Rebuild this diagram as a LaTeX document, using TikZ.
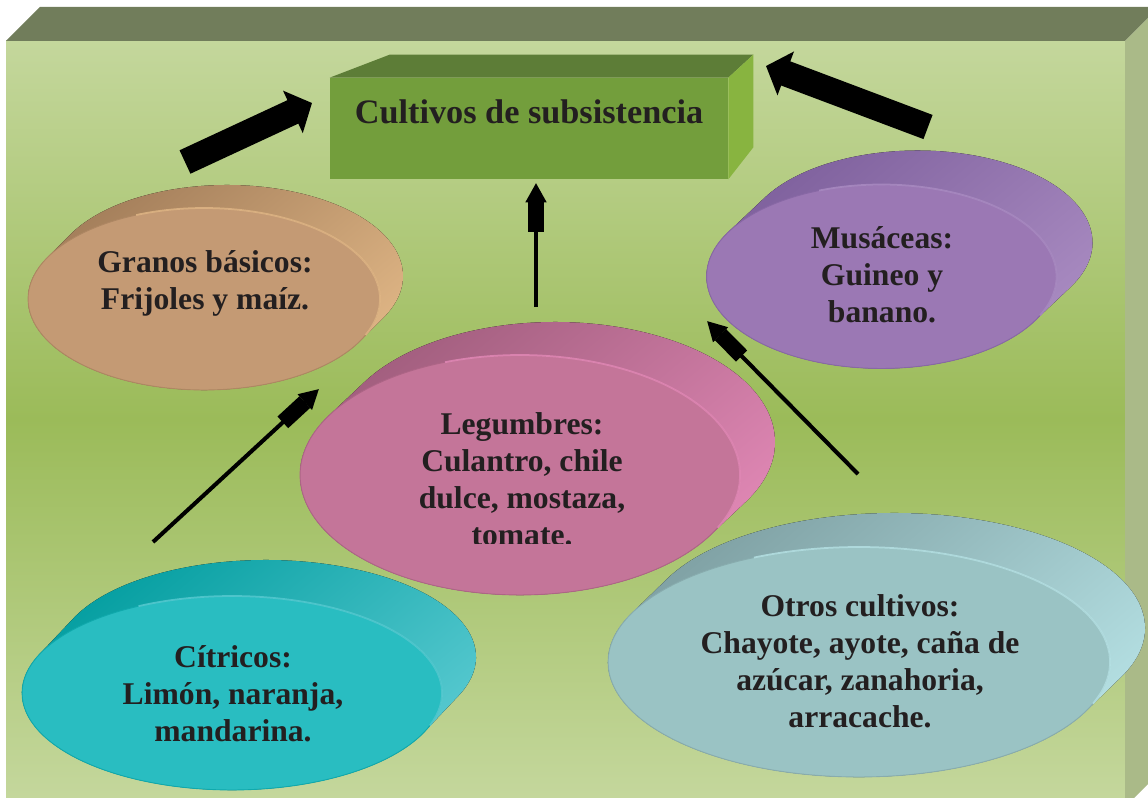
\documentclass[tikz,border=0pt]{standalone}
\usepackage{fontspec}
\setmainfont{Liberation Serif}
\usepackage{tikz}
\usetikzlibrary{arrows.meta,shapes.geometric,calc}

\definecolor{fondoclaro}{HTML}{C4D79C}
\definecolor{fondomedio}{HTML}{9BBB59}
\definecolor{fondotapa}{HTML}{717D5B}
\definecolor{fondolado}{HTML}{AABA88}
\definecolor{cajafrente}{HTML}{739E3C}
\definecolor{cajatapa}{HTML}{5D7D37}
\definecolor{cajalado}{HTML}{88B440}
\definecolor{tinta}{HTML}{231F20}
\definecolor{granos}{HTML}{C49A74}
\definecolor{granosO}{HTML}{A07B58}
\definecolor{granosC}{HTML}{E2B887}
\definecolor{musa}{HTML}{9B78B4}
\definecolor{musaO}{HTML}{7C5E9B}
\definecolor{musaC}{HTML}{AB8DC3}
\definecolor{legum}{HTML}{C47599}
\definecolor{legumO}{HTML}{9D5B7A}
\definecolor{legumC}{HTML}{E48AB8}
\definecolor{citri}{HTML}{29BDC1}
\definecolor{citriO}{HTML}{009C9E}
\definecolor{citriC}{HTML}{5BCBD2}
\definecolor{otros}{HTML}{9AC3C4}
\definecolor{otrosO}{HTML}{7C9DA0}
\definecolor{otrosC}{HTML}{B7E3E6}

\tikzstyle{disco} = [ellipse, inner sep=0pt, line width=0.5pt]
\tikzstyle{texto} = [align=center, inner sep=0pt, text=tinta,
    font=\bfseries\fontsize{18}{21}\selectfont]
\tikzstyle{titulo} = [rectangle, fill=cajafrente, minimum width=7.96cm,
    inner sep=0pt, text height=0.9cm, text depth=1.12cm, text=tinta,
    font=\bfseries\fontsize{19.5}{23}\selectfont]
\tikzstyle{bloque} = [line width=14.7pt, -{Triangle[length=12pt,width=26pt]}]
\tikzstyle{flecha} = [line width=2.3pt,
    -{Rectangle[length=17pt,width=9pt] Triangle[length=11pt,width=11.5pt]}]

% disco: nombre, centro, dx, dy, rx, ry, cara, oscuro, claro
\newcommand{\disco}[9]{%
  \pgfmathsetmacro{\tcero}{atan2(-(#6)*(#3),(#5)*(#4))}
  \fill[top color=#8, bottom color=#9, shading angle=40]
    ($(#2)+({(#5)*cos(\tcero)},{(#6)*sin(\tcero)})$) -- ++(#3,#4)
    arc[start angle=\tcero, end angle=\tcero+180, x radius=#5, y radius=#6]
    -- ++(-#3,-#4)
    arc[start angle=\tcero+180, end angle=\tcero+360, x radius=#5, y radius=#6]
    -- cycle;
  \node[disco, fill=#7, draw=#8!60!#7, minimum width=#5*0.04cm,
    minimum height=#6*0.04cm] (#1) at (#2) {};
  \draw[#9, line width=1pt, opacity=0.8]
    ($(#2)+({(#5)*cos(\tcero+4)},{(#6)*sin(\tcero+4)})$)
    arc[start angle=\tcero+4, end angle=\tcero+140, x radius=#5, y radius=#6];
}

\begin{document}
\begin{tikzpicture}[x=0.02cm, y=0.02cm]
  \useasboundingbox (0,0) rectangle (1148,-797);
  \clip (0,0) rectangle (1148,-797);
  % Fondo
  \fill[top color=fondoclaro, bottom color=fondoclaro, middle color=fondomedio]
    (6,-41) rectangle (1125,-797);
  \fill[fondotapa] (6,-41) -- (40,-7) -- (1159,-7) -- (1125,-41) -- cycle;
  \fill[fondolado] (1125,-41) -- (1159,-7) -- (1159,-773) -- (1125,-807) -- cycle;

  % Place nodes
  \node[titulo] (titulo) at (529,-128.5) {Cultivos de subsistencia};
  \fill[cajatapa] (titulo.north west) -- ($(titulo.north west)+(60,23)$)
    -- ($(titulo.north east)+(25,23)$) -- (titulo.north east) -- cycle;
  \fill[cajalado] (titulo.north east) -- ($(titulo.north east)+(25,23)$)
    -- ($(titulo.south east)+(25,32)$) -- (titulo.south east) -- cycle;

  \disco{granos}{204,-299}{23}{23}{176}{91}{granos}{granosO}{granosC}
  \node[texto] (granosT) at (205,-283) {Granos básicos:\\ Frijoles y maíz.};

  \disco{musaceas}{881.5,-276.5}{36}{34}{175}{92}{musa}{musaO}{musaC}
  \node[texto] (musaceasT) at (882,-275) {Musáceas:\\ Guineo y\\ banano.};

  \disco{legumbres}{520,-475}{35}{33}{220}{120}{legum}{legumO}{legumC}
  \begin{scope}
    \clip (290,-395) rectangle (760,-543);
    \node[texto] (legumbresT) at (522,-479)
      {Legumbres:\\ Culantro, chile\\ dulce, mostaza,\\ tomate.};
  \end{scope}

  \disco{citricos}{232,-693}{34}{36}{210}{97}{citri}{citriO}{citriC}
  \node[texto] (citricosT) at (233,-694) {Cítricos:\\ Limón, naranja,\\ mandarina.};

  \disco{otros}{859,-662}{35}{34}{251}{115}{otros}{otrosO}{otrosC}
  \node[texto] (otrosT) at (860,-661)
    {Otros cultivos:\\ Chayote, ayote, caña de\\ azúcar, zanahoria,\\ arracache.};

  % Flechas
  \coordinate (f11) at (185,-162);
  \coordinate (f12) at (312,-103);
  \coordinate (f21) at (928,-127);
  \coordinate (f22) at (766,-66);
  \coordinate (f31) at (536,-307);
  \coordinate (f32) at (536,-183);
  \coordinate (f41) at (153,-542);
  \coordinate (f42) at (319,-389);
  \coordinate (f51) at (858,-474);
  \coordinate (f52) at (707,-321);
  \draw[bloque] (f11) -- (f12);
  \draw[bloque] (f21) -- (f22);
  \draw[flecha] (f31) -- (f32);
  \draw[flecha] (f41) -- (f42);
  \draw[flecha] (f51) -- (f52);
\end{tikzpicture}
\end{document}
